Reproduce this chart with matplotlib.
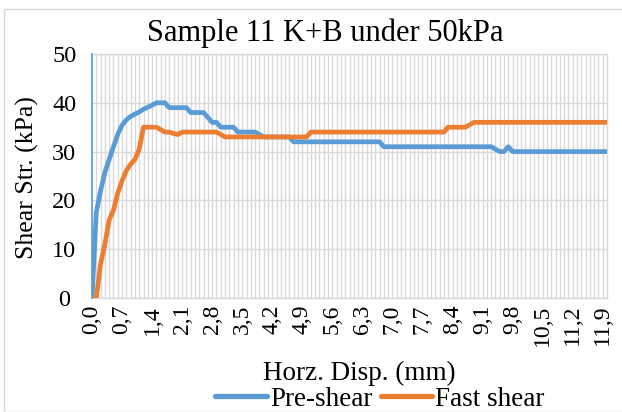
import matplotlib
matplotlib.use("Agg")
import matplotlib.pyplot as plt
from matplotlib.patches import Rectangle
from matplotlib.lines import Line2D

# Horizontal displacement categories (mm), step 0.1
disp_labels = [f"{i/10:.1f}".replace(".", ",") for i in range(121)]

pre_shear = [
    0, 17.5, 22, 25.7, 28.4, 31, 33.5, 35.4, 36.5, 37.2,   # 0-9
    37.7, 38.1, 38.7, 39.1, 39.5, 40, 40, 40, 39, 39,      # 10-19
    39, 39, 39, 38, 38, 38, 38, 37, 36, 36,                # 20-29
    35, 35, 35, 35, 34, 34, 34, 34, 34, 33.5,              # 30-39
    33, 33, 33, 33, 33, 33, 33, 32, 32, 32,                # 40-49
    32, 32, 32, 32, 32, 32, 32, 32, 32, 32,                # 50-59
    32, 32, 32, 32, 32, 32, 32, 32, 31, 31,                # 60-69
    31, 31, 31, 31, 31, 31, 31, 31, 31, 31,                # 70-79
    31, 31, 31, 31, 31, 31, 31, 31, 31, 31,                # 80-89
    31, 31, 31, 31, 30.5, 30, 30, 31, 30, 30,              # 90-99
    30, 30, 30, 30, 30, 30, 30, 30, 30, 30,                # 100-109
    30, 30, 30, 30, 30, 30, 30, 30, 30, 30,                # 110-119
    30,                                                    # 120
]

fast_shear = [
    0, 0, 7, 11, 16, 18, 21.5, 24, 26.1, 27.4,             # 0-9
    28.4, 30.5, 35, 35, 35, 35, 34.5, 34, 34, 33.7,        # 10-19
    33.5, 34, 34, 34, 34, 34, 34, 34, 34, 34,              # 20-29
    33.5, 33, 33, 33, 33, 33, 33, 33, 33, 33,              # 30-39
    33, 33, 33, 33, 33, 33, 33, 33, 33, 33,                # 40-49
    33, 34, 34, 34, 34, 34, 34, 34, 34, 34,                # 50-59
    34, 34, 34, 34, 34, 34, 34, 34, 34, 34,                # 60-69
    34, 34, 34, 34, 34, 34, 34, 34, 34, 34,                # 70-79
    34, 34, 34, 35, 35, 35, 35, 35, 35.5, 36,              # 80-89
    36, 36, 36, 36, 36, 36, 36, 36, 36, 36,                # 90-99
    36, 36, 36, 36, 36, 36, 36, 36, 36, 36,                # 100-109
    36, 36, 36, 36, 36, 36, 36, 36, 36, 36,                # 110-119
    36,                                                    # 120
]

y_ticks = [0, 10, 20, 30, 40, 50]

FONT = ["Liberation Serif", "DejaVu Serif"]
plt.rcParams["font.family"] = FONT

BLUE = "#5b9bd5"
ORANGE = "#ed7d31"
GRID = "#d9d9d9"

W, H = 622, 412
fig = plt.figure(figsize=(W / 100, H / 100), dpi=100)

def fx(px):
    return px / W

def fy(py):
    return 1 - py / H

left, right, top, bottom = 92, 607, 54, 298
ax = fig.add_axes([fx(left), fy(bottom), fx(right) - fx(left), fy(top) - fy(bottom)])

x = list(range(len(disp_labels)))
ax.set_xlim(0, len(disp_labels) - 1)
ax.set_ylim(0, 50)

# grid lines
for xi in x:
    ax.axvline(xi, color=GRID, lw=1.0, zorder=0)
for yt in y_ticks:
    ax.axhline(yt, color=GRID, lw=1.0, zorder=0)

ax.plot(x, pre_shear, color=BLUE, lw=3.4, solid_joinstyle="round", solid_capstyle="round", zorder=3)
ax.plot(x, fast_shear, color=ORANGE, lw=3.4, solid_joinstyle="round", solid_capstyle="round", zorder=4)

ax.set_yticks(y_ticks)
ax.set_yticklabels([str(v) for v in y_ticks], fontsize=17.5)
tick_idx = list(range(0, len(disp_labels), 7))
ax.set_xticks(tick_idx)
ax.set_xticklabels([disp_labels[i] for i in tick_idx], rotation=90, fontsize=17)
ax.tick_params(axis="both", length=0)
ax.tick_params(axis="x", pad=5)
ax.tick_params(axis="y", pad=20)
for lbl in ax.get_yticklabels():
    lbl.set_horizontalalignment("center")

for s in ["top", "right", "bottom"]:
    ax.spines[s].set_color(GRID)
    ax.spines[s].set_linewidth(1.0)
ax.spines["left"].set_color(BLUE)
ax.spines["left"].set_linewidth(1.2)
ax.spines["left"].set_zorder(5)

# labels
fig.text(fx(325), fy(33), "Sample 11 K+B under 50kPa", ha="center", va="center", fontsize=22)
fig.text(fx(27), fy(178), "Shear Str. (kPa)", ha="center", va="center", rotation=90, fontsize=18.5)
fig.text(fx(359), fy(373), "Horz. Disp. (mm)", ha="center", va="center", fontsize=19.5)

# legend
handles = [Line2D([0], [0], color=BLUE, lw=3.8, solid_capstyle="round"),
           Line2D([0], [0], color=ORANGE, lw=3.8, solid_capstyle="round")]
fig.legend(handles, ["Pre-shear", "Fast shear"], loc="center", bbox_to_anchor=(fx(380), fy(399)),
           ncol=2, frameon=False, fontsize=19.5, handlelength=1.9, handletextpad=0.12,
           columnspacing=0.3, borderpad=0)

# chart border
fig.add_artist(Rectangle((fx(4), fy(412)), fx(640) - fx(4), fy(9) - fy(412), transform=fig.transFigure,
                         fill=False, edgecolor=GRID, lw=1.0))

fig.savefig("out.png", dpi=100)
